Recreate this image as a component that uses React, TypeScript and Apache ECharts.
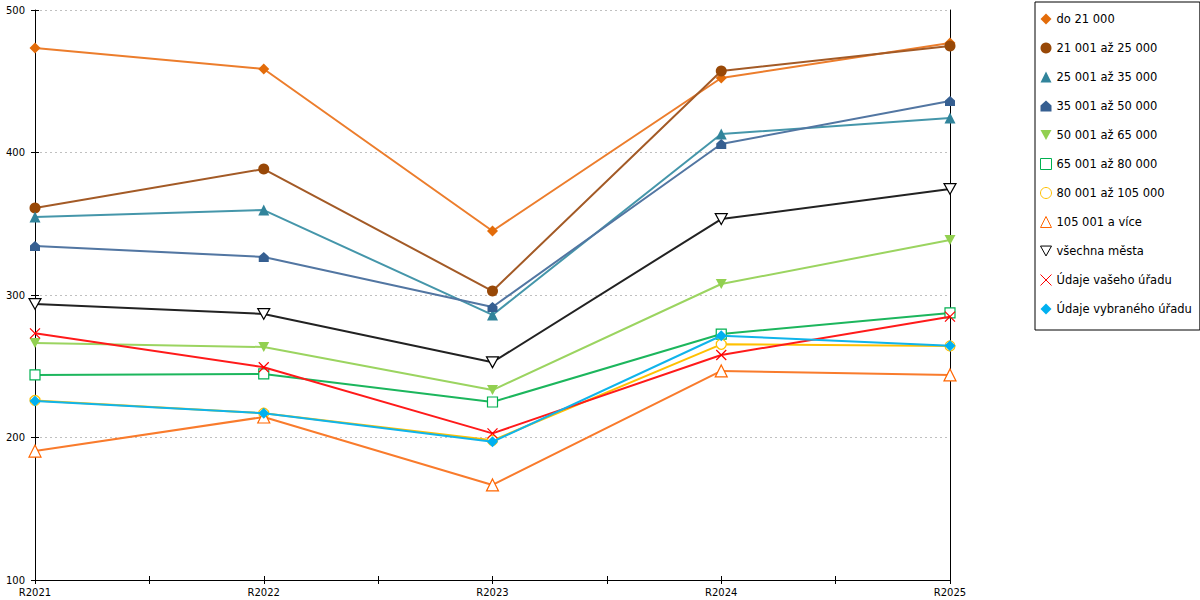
import React, { useEffect, useRef } from "react";
import * as echarts from "echarts";

const categories = ["R2021", "R2022", "R2023", "R2024", "R2025"];
const seriesNames = [
  "do 21 000",
  "21 001 až 25 000",
  "25 001 až 35 000",
  "35 001 až 50 000",
  "50 001 až 65 000",
  "65 001 až 80 000",
  "80 001 až 105 000",
  "105 001 a více",
  "všechna města",
  "Údaje vašeho úřadu",
  "Údaje vybraného úřadu",
];
const do21000 = [473.3, 458.6, 344.9, 452.3, 476.8];
const s21to25 = [361.1, 388.4, 302.8, 457.2, 474.7];
const s25to35 = [354.7, 359.6, 286.0, 413.0, 424.2];
const s35to50 = [334.4, 326.7, 291.6, 406.0, 436.1];
const s50to65 = [266.3, 263.5, 233.3, 307.7, 338.6];
const s65to80 = [243.9, 244.6, 224.9, 272.6, 287.4];
const s80to105 = [226.0, 217.0, 198.0, 265.4, 264.2];
const s105plus = [190.5, 214.4, 166.7, 246.7, 243.9];
const vsechnaMesta = [293.7, 286.7, 252.8, 353.3, 374.4];
const vasUrad = [273.1, 249.3, 202.9, 257.9, 284.8];
const vybranyUrad = [225.6, 217.0, 197.0, 271.4, 264.4];
const yTicks = [100, 200, 300, 400, 500];

const seriesValues = [
  do21000, s21to25, s25to35, s35to50, s50to65, s65to80,
  s80to105, s105plus, vsechnaMesta, vasUrad, vybranyUrad,
];

const INV_TRI = "path://M0,0L10,0L5,9Z";
const HOUSE = "path://M5,0L10,4.5L10,10L0,10L0,4.5Z";
const CROSS = "path://M0,0L10,10M10,0L0,10";

type Sty = {
  symbol: string;
  size: number;
  line: string;
  fill: string;
  stroke?: string;
};
const styles: Sty[] = [
  { symbol: "diamond", size: 11, line: "#ec7d2c", fill: "#e36c0a" },
  { symbol: "circle", size: 11, line: "#a35a26", fill: "#984807" },
  { symbol: "triangle", size: 11, line: "#4596aa", fill: "#31849b" },
  { symbol: HOUSE, size: 10, line: "#5276a2", fill: "#365f91" },
  { symbol: INV_TRI, size: 11, line: "#9bd460", fill: "#92d050" },
  { symbol: "rect", size: 10, line: "#1cb65d", fill: "#ffffff", stroke: "#00b050" },
  { symbol: "circle", size: 10, line: "#ffc000", fill: "#ffffff", stroke: "#ffc000" },
  { symbol: "triangle", size: 12, line: "#f97b2c", fill: "#ffffff", stroke: "#ff6600" },
  { symbol: INV_TRI, size: 12, line: "#222222", fill: "#ffffff", stroke: "#000000" },
  { symbol: CROSS, size: 10, line: "#ff1a1a", fill: "transparent", stroke: "#ff0000" },
  { symbol: "diamond", size: 11, line: "#10b4ea", fill: "#00b0f0" },
];

const FONT = "DejaVu Sans";

export default function App() {
  const ref = useRef<HTMLDivElement>(null);
  useEffect(() => {
    if (!ref.current) return;
    const chart = echarts.init(ref.current, undefined, { renderer: "svg" });
    const series = seriesNames.map((name, i) => {
      const s = styles[i];
      return {
        name,
        type: "line",
        xAxisIndex: 0,
        yAxisIndex: 0,
        data: seriesValues[i],
        symbol: s.symbol,
        symbolSize: s.size,
        symbolKeepAspect: true,
        showAllSymbol: true,
        lineStyle: { color: s.line, width: 2 },
        itemStyle: {
          color: s.fill,
          borderColor: s.stroke || s.fill,
          borderWidth: s.stroke ? 1.2 : 0,
        },
        emphasis: { disabled: true },
        z: 2 + i,
      };
    });
    const baseY = { type: "value", min: 100, max: 500, interval: 100 };
    const baseX = { type: "value", min: 0, max: 8, interval: 1 };
    chart.setOption({
      animation: false,
      textStyle: { fontFamily: FONT },
      grid: { left: 35, right: 250, top: 10, bottom: 20, containLabel: false },
      legend: {
        orient: "vertical",
        left: 1035,
        top: 2,
        padding: [11, 8, 15, 5],
        itemGap: 17,
        itemWidth: 11,
        itemHeight: 11,
        borderColor: "#000",
        borderWidth: 1,
        selectedMode: false,
        textStyle: { fontFamily: FONT, fontSize: 11.5, color: "#000", lineHeight: 12 },
        data: seriesNames.map((name, i) => ({
          name,
          icon: styles[i].symbol,
          itemStyle: { borderWidth: styles[i].stroke ? 1 : 0 },
        })),
      },
      xAxis: [
        {
          type: "category",
          data: categories,
          boundaryGap: false,
          axisLine: { show: true, lineStyle: { color: "#000", width: 1 } },
          axisTick: { show: false },
          axisLabel: { fontFamily: FONT, fontSize: 10, color: "#000", margin: 7 },
          splitLine: { show: false },
        },
        {
          ...baseX,
          position: "bottom",
          axisLine: { show: false },
          axisLabel: { show: false },
          axisTick: { show: true, length: 4, lineStyle: { color: "#000" } },
          splitLine: { show: false },
        },
        {
          ...baseX,
          position: "bottom",
          axisLine: { show: false },
          axisLabel: { show: false },
          axisTick: { show: true, inside: true, length: 4, lineStyle: { color: "#000" } },
          splitLine: { show: false },
        },
      ],
      yAxis: [
        {
          ...baseY,
          position: "left",
          axisLine: { show: true, lineStyle: { color: "#000", width: 1 } },
          axisTick: { show: true, length: 4, lineStyle: { color: "#000" } },
          axisLabel: {
            fontFamily: FONT,
            fontSize: 10,
            color: "#000",
            margin: 10,
            formatter: (v: number) => (yTicks.includes(v) ? String(v) : ""),
          },
          splitLine: {
            show: true,
            lineStyle: { color: "#c0c0c0", type: [2, 3], width: 1 },
          },
        },
        {
          ...baseY,
          position: "left",
          axisLine: { show: false },
          axisLabel: { show: false },
          axisTick: { show: true, inside: true, length: 4, lineStyle: { color: "#000" } },
          splitLine: { show: false },
        },
        {
          ...baseY,
          position: "right",
          axisLine: { show: true, lineStyle: { color: "#000", width: 1 } },
          axisLabel: { show: false },
          axisTick: { show: false },
          splitLine: { show: false },
        },
      ],
      series,
    });
    return () => chart.dispose();
  }, []);
  return (
    <div
      ref={ref}
      style={{ position: "absolute", left: 0, top: 0, width: 1200, height: 600 }}
    />
  );
}
